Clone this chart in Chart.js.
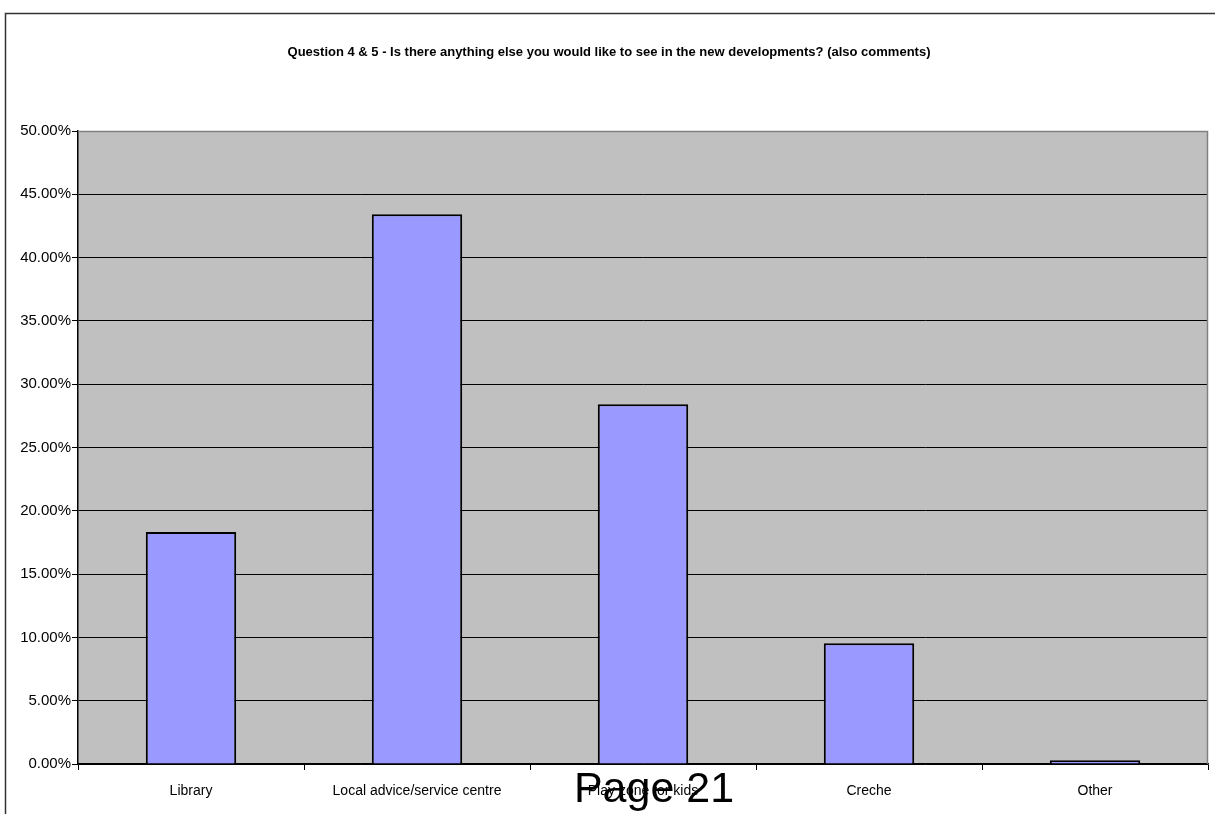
<!DOCTYPE html>
<html>
<head>
<meta charset="utf-8">
<script src="https://cdn.jsdelivr.net/npm/chart.js@4/dist/chart.umd.min.js"></script>
<style>
  html, body { margin: 0; padding: 0; background: #fff; }
  #wrap { width: 1215px; height: 814px; position: relative; }
</style>
</head>
<body>
<div id="wrap"><canvas id="barChart"></canvas></div>
<script>
var categories = ['Library', 'Local advice/service centre', 'Play zone for kids', 'Creche', 'Other'];
var percents = [18.32, 43.43, 28.42, 9.53, 0.29];
var yTicks = [0, 5, 10, 15, 20, 25, 30, 35, 40, 45, 50];
var chartTitle = 'Question 4 & 5 - Is there anything else you would like to see in the new developments? (also comments)';
var pageLabel = 'Page 21';

// frame, grey plot background, title and the page footer
var sheetPlugin = {
  id: 'sheet',
  beforeDraw: function(chart) {
    var c = chart.ctx, a = chart.chartArea;
    c.save();
    c.fillStyle = '#fff';
    c.fillRect(0, 0, chart.width, chart.height);
    c.strokeStyle = '#333';
    c.lineWidth = 1.5;
    c.strokeRect(5.5, 13.5, 1400, 1000);
    c.fillStyle = '#c0c0c0';
    c.fillRect(a.left, a.top, a.right - a.left, a.bottom - a.top);
    c.fillStyle = '#000';
    c.font = 'bold 13px "Liberation Sans", Arial, sans-serif';
    c.textAlign = 'center';
    c.textBaseline = 'alphabetic';
    c.fillText(chartTitle, 609, 56);
    c.restore();
  },
  afterDraw: function(chart) {
    var c = chart.ctx, a = chart.chartArea;
    c.save();
    c.strokeStyle = '#808080';
    c.lineWidth = 1.5;
    c.beginPath();
    c.moveTo(a.left, a.top + 0.5);
    c.lineTo(a.right - 0.5, a.top + 0.5);
    c.lineTo(a.right - 0.5, a.bottom);
    c.stroke();
    c.fillStyle = '#000';
    c.font = '43px "Liberation Sans", Arial, sans-serif';
    c.textAlign = 'center';
    c.textBaseline = 'alphabetic';
    c.fillText(pageLabel, 654, 802);
    c.restore();
  }
};

var ctx = document.getElementById('barChart').getContext('2d');
var myChart = new Chart(ctx, {
  type: 'bar',
  data: {
    labels: categories,
    datasets: [{
      data: percents,
      backgroundColor: '#9999ff',
      borderColor: '#000',
      borderWidth: 2,
      barPercentage: 0.4,
      categoryPercentage: 1
    }]
  },
  options: {
    responsive: true,
    maintainAspectRatio: false,
    animation: false,
    devicePixelRatio: 1,
    layout: { padding: { left: 0, top: 131, right: 7, bottom: 0 } },
    plugins: { legend: { display: false }, title: { display: false }, tooltip: { enabled: false } },
    scales: {
      x: {
        offset: true,
        grid: { offset: true, drawOnChartArea: false, color: '#000', tickLength: 6 },
        border: { color: '#000', width: 1.5 },
        ticks: { color: '#000', padding: 13, font: { family: '"Liberation Sans", Arial, sans-serif', size: 14 }, maxRotation: 0 },
        afterFit: function(s) { s.height = 50; }
      },
      y: {
        min: 0,
        max: 50,
        afterBuildTicks: function(s) { s.ticks = yTicks.map(function(v) { return { value: v }; }); },
        grid: { color: '#000', lineWidth: 1, tickLength: 6 },
        border: { color: '#000', width: 1.5 },
        ticks: {
          color: '#000', padding: 1,
          font: { family: '"Liberation Sans", Arial, sans-serif', size: 15 },
          callback: function(v) { return v.toFixed(2) + '%'; }
        },
        afterFit: function(s) { s.width = 78; }
      }
    }
  },
  plugins: [sheetPlugin]
});
</script>
</body>
</html>
